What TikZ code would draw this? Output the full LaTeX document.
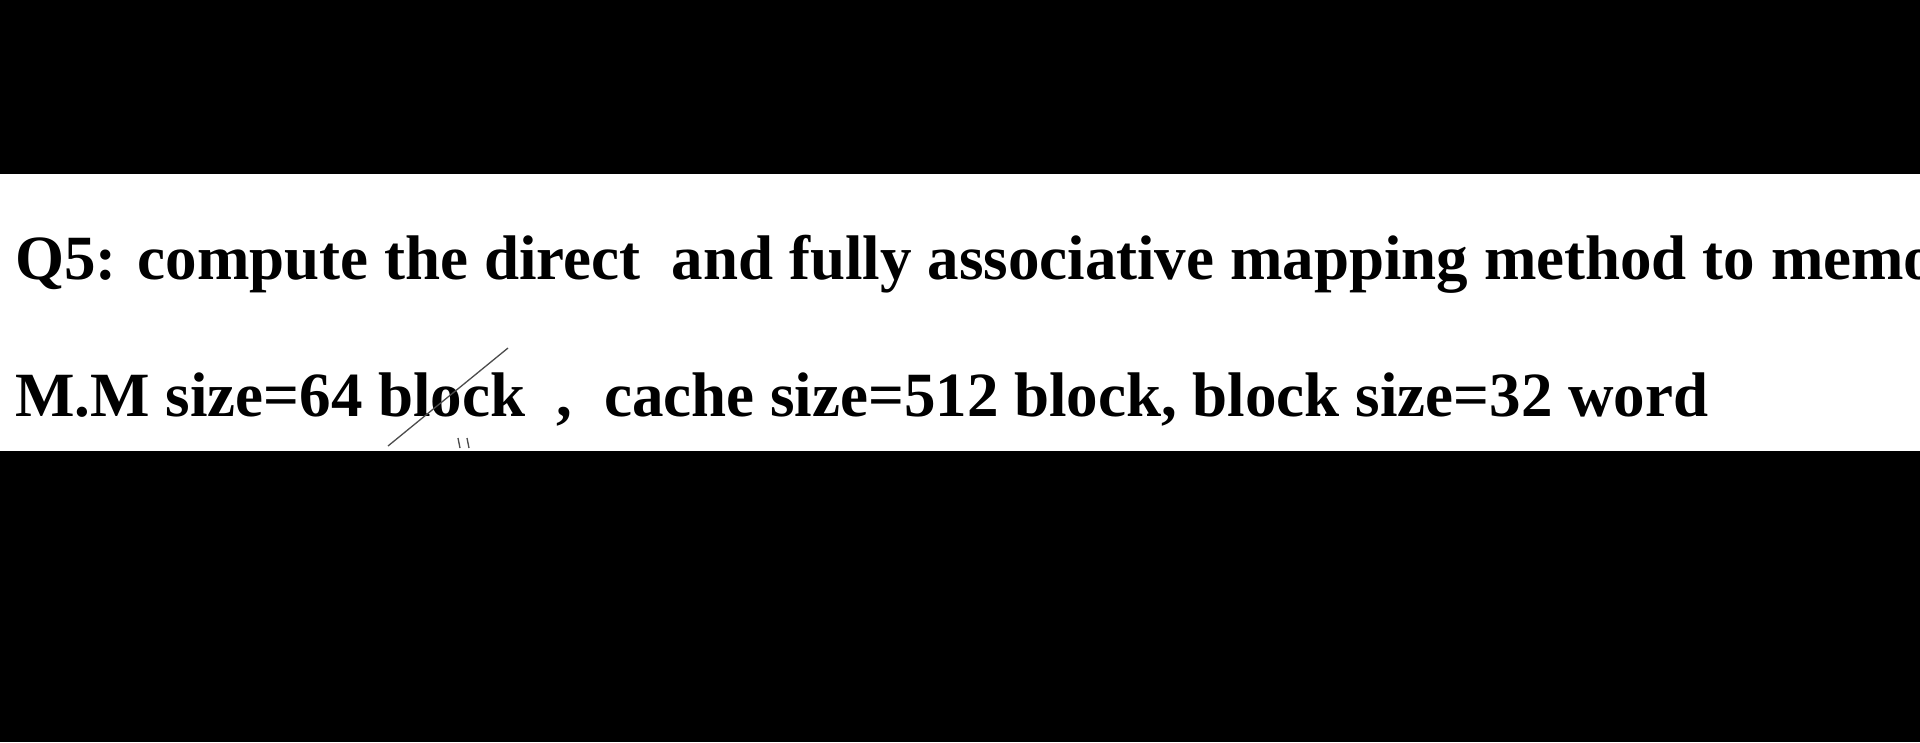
\documentclass[tikz,border=0pt]{standalone}
\usepackage{fontspec}
\setmainfont{Liberation Serif}
\begin{document}
\begin{tikzpicture}[x=1pt,y=-1pt,txt/.style={anchor=base west,inner sep=0pt,font=\bfseries\fontsize{63}{66}\selectfont}]
\fill[black] (0,0) rectangle (1920,742);
\useasboundingbox (0,0) rectangle (1920,742);
\fill[white] (0,174) rectangle (1920,451);
\begin{scope}
\clip (0,174) rectangle (1920,451);
\node[txt] (l1) at (15,279) {Q5: compute the direct\ \ and fully associative mapping method to memory};
\node[txt] (l2) at (15,416) {M.M size=64 block\ \ ,\ \ cache size=512 block, block size=32 word};
\draw[gray!60!black,line width=1.3] (388,446) -- (508,348) (458,438) -- (460,448) (467,438) -- (469,448);
\end{scope}
\end{tikzpicture}
\end{document}
